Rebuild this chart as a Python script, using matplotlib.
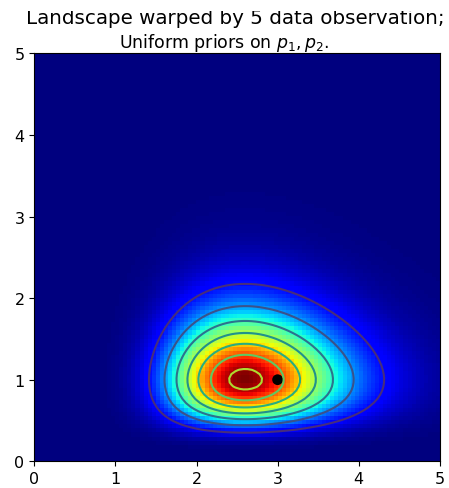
import math
import numpy as np
import matplotlib
matplotlib.use('Agg')
import matplotlib.pyplot as plt
from matplotlib.transforms import Bbox, TransformedBbox

# observed counts (5 observations each), true rates marked by the dot
obs_1 = [3, 1, 1, 0, 0]
obs_2 = [4, 3, 3, 2, 1]
lambda_1_true = 1
lambda_2_true = 3
N = len(obs_1)

title_1 = "Landscape warped by %d data observation;" % N
title_2 = "Uniform priors on $p_1, p_2$."


def poisson_pmf(k, lam):
    return lam ** k * np.exp(-lam) / math.factorial(k)


x = y = np.linspace(.01, 5, 100)
likelihood_x = np.array([np.prod([poisson_pmf(k, _x) for k in obs_1]) for _x in x])
likelihood_y = np.array([np.prod([poisson_pmf(k, _y) for k in obs_2]) for _y in y])
L = np.dot(likelihood_x[:, None], likelihood_y[None, :])

# uniform priors on [0, 5]
uni_x = np.full_like(x, 1 / 5.)
uni_y = np.full_like(y, 1 / 5.)
M = np.dot(uni_x[:, None], uni_y[None, :])

W, H = 449., 489.
fig = plt.figure(figsize=(W / 100, H / 100), dpi=100)
ax = fig.add_axes([34.3 / W, (H - 462.3) / H, 405.5 / W, 408 / H])
ax.contour(x, y, M * L)
ax.imshow(M * L, interpolation='none', origin='lower', cmap='jet', extent=(0, 5, 0, 5))
ax.set_aspect('auto')
ax.scatter(lambda_2_true, lambda_1_true, c="k", s=60, edgecolor="none")
ax.set_xlim(0, 5)
ax.set_ylim(0, 5)
ax.tick_params(labelsize=11.5)

# two title lines; the reference picture is cropped through the first one
t1 = fig.text(25.7 / W, (H - 24.5) / H, title_1, fontsize=14.3, ha='left', va='baseline')
t1.set_clip_box(TransformedBbox(Bbox([[0, 0], [1, 1 - 12 / H]]), fig.transFigure))
t1.set_clip_on(True)
fig.text(119 / W, (H - 47.5) / H, title_2, fontsize=12.5, ha='left', va='baseline')

plt.savefig('out.png', dpi=100)
